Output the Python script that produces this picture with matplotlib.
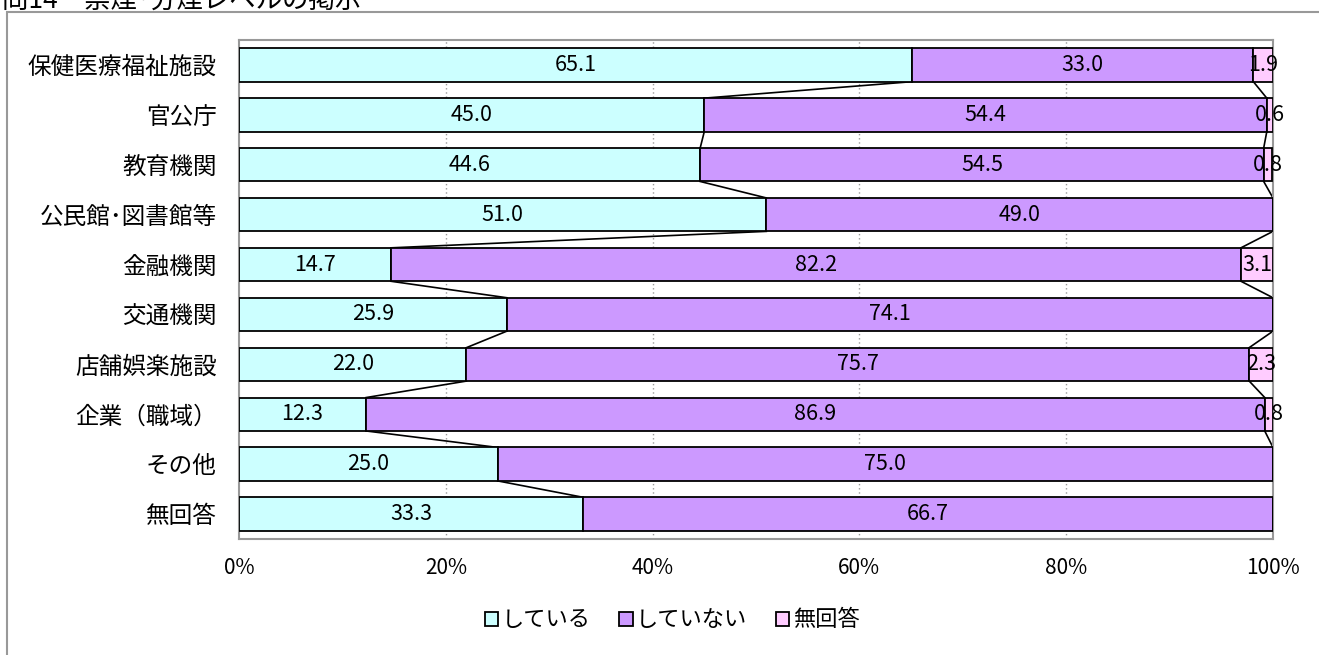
import numpy as np
import matplotlib.pyplot as plt
from matplotlib.patches import Rectangle, Patch

plt.rcParams['font.family'] = ['Noto Sans CJK JP', 'DejaVu Sans']

categories = ['保健医療福祉施設', '官公庁', '教育機関', '公民館･図書館等', '金融機関',
              '交通機関', '店舗娯楽施設', '企業（職域）', 'その他', '無回答']
yes = [65.1, 45.0, 44.6, 51.0, 14.7, 25.9, 22.0, 12.3, 25.0, 33.3]
no = [33.0, 54.4, 54.5, 49.0, 82.2, 74.1, 75.7, 86.9, 75.0, 66.7]
na = [1.9, 0.6, 0.8, 0.0, 3.1, 0.0, 2.3, 0.8, 0.0, 0.0]
series_names = ['している', 'していない', '無回答']
colors = ['#CCFFFF', '#CC99FF', '#FFCCFF']

fig = plt.figure(figsize=(13.19, 6.55), dpi=100)
# outer chart frame
fig.patches.append(Rectangle((7 / 1319, -0.01), 1.0, 1 - 12 / 655 + 0.01,
                             transform=fig.transFigure, fill=False,
                             edgecolor='#999999', linewidth=1.5))
# title is clipped by the top edge in the original
fig.text(2 / 1319, 1 - 8 / 655, '問14　禁煙･分煙レベルの掲示', fontsize=19,
         va='baseline', ha='left')

ax = fig.add_axes([239 / 1319, 1 - 539 / 655, 1034 / 1319, 499 / 655])
y = np.arange(len(categories))
h = 0.67
data = [np.array(yes), np.array(no), np.array(na)]
left = np.zeros(len(categories))
cums = []
for vals, col, name in zip(data, colors, series_names):
    ax.barh(y, vals, left=left, height=h, color=col, edgecolor='black',
            linewidth=1.3, label=name, zorder=3)
    for yi, l, v in zip(y, left, vals):
        if v > 0:
            ax.text(l + v / 2, yi, f'{v:.1f}', ha='center', va='center',
                    fontsize=15.5, zorder=4)
    left = left + vals
    cums.append(left.copy())

# series lines between bars
for c in cums[:2]:
    for i in range(len(categories) - 1):
        ax.plot([c[i], c[i + 1]], [y[i] + h / 2, y[i + 1] - h / 2],
                color='black', linewidth=1.2, zorder=2)

ax.set_xlim(0, 100)
ax.set_ylim(len(categories) - 0.5, -0.5)
ax.set_xticks(np.arange(0, 101, 20))
ax.set_xticklabels([f'{t}%' for t in range(0, 101, 20)], fontsize=15)
ax.set_yticks(y)
ax.set_yticklabels(categories, fontsize=17)
ax.tick_params(length=0, pad=16)
ax.tick_params(axis='x', pad=13)
for x in [20, 40, 60, 80]:
    ax.axvline(x, color='#999999', linestyle=(0, (1, 2)), linewidth=1, zorder=1)
for s in ax.spines.values():
    s.set_color('#999999')
    s.set_linewidth(1.5)

handles = [Patch(facecolor=c, edgecolor='black', linewidth=1.3) for c in colors]
fig.legend(handles, series_names, loc='center', bbox_to_anchor=(672 / 1319, 1 - 620 / 655),
           ncol=3, frameon=False, fontsize=16, handlelength=0.6, handleheight=0.6,
           handletextpad=0.15, columnspacing=1.3)

fig.savefig('out.png', dpi=100)
